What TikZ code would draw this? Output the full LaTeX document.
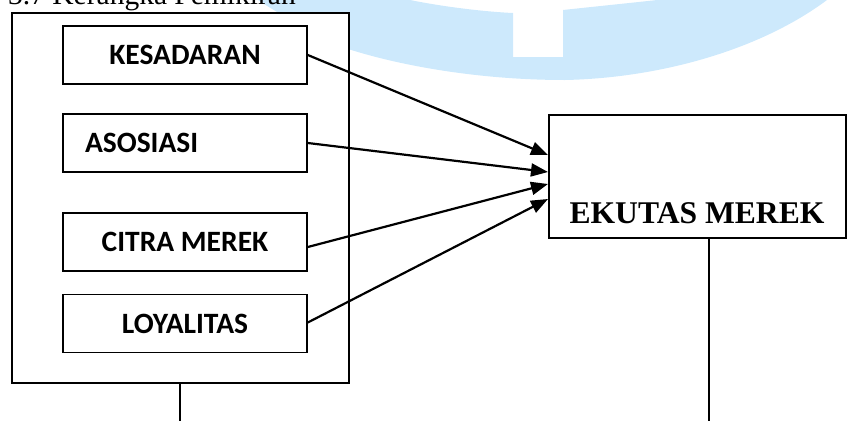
\documentclass[tikz,border=0pt]{standalone}
\usepackage{fontspec}
\setmainfont{Liberation Serif}
\newfontfamily\calfont{Carlito}
\usetikzlibrary{arrows.meta,calc}
\definecolor{wmblue}{RGB}{205,233,252}
\tikzset{
  innerbox/.style={draw=black, line width=1.6pt, fill=white, minimum width=244pt, minimum height=58pt,
    inner sep=0pt, font=\calfont\bfseries\fontsize{29.5}{33}\selectfont},
  bigbox/.style={draw=black, line width=1.6pt, fill=white, inner sep=0pt},
  arr/.style={line width=2.2pt, -{Triangle[length=17pt,width=13pt]}, shorten >=0pt},
  thinline/.style={line width=1.3pt}
}
\begin{document}
\begin{tikzpicture}[x=1pt,y=-1pt]
\useasboundingbox (0,0) rectangle (847,421);
% watermark band
\fill[wmblue] (258,0) -- (410,0) .. controls (450,8) and (490,12) .. (513,13)
  -- (513,57) -- (563,57) -- (563,10) .. controls (600,6) and (630,3) .. (657,0)
  -- (827,0) .. controls (760,50) and (660,78) .. (565,80)
  .. controls (480,80) and (400,66) .. (345,48) .. controls (310,30) and (280,15) .. cycle;
% heading (cut off at top)
\begin{scope}
\clip (0,0) rectangle (847,421);
\node[anchor=base west, inner sep=0pt, font=\fontsize{29.5}{33}\selectfont] (head) at (8,4) {3.7 Kerangka Pemikiran};
\end{scope}
% outer box
\node[bigbox, minimum width=337pt, minimum height=370pt, anchor=north west] (outer) at (11,12) {};
% inner boxes
\node[innerbox] (kes) at (185,55) {KESADARAN};
\node[innerbox, text width=200pt, inner xsep=22pt, align=left] (aso) at (185,143) {ASOSIASI};
\node[innerbox] (cit) at (185,242) {CITRA MEREK};
\node[innerbox] (loy) at (185,323.5) {LOYALITAS};
% ekuitas box
\node[bigbox, minimum width=297pt, minimum height=123pt, anchor=north west] (ek) at (548,114) {};
\node[inner sep=0pt, anchor=base, font=\bfseries\fontsize{31.6}{36}\selectfont] (ekt) at (697,223) {EKUTAS MEREK};
% arrows
\draw[arr] (kes.east) -- ($(ek.north west)+(0,41)$);
\draw[arr] (aso.east) -- ($(ek.north west)+(0,58)$);
\draw[arr] ($(cit.east)+(0,5)$) -- ($(ek.north west)+(0,70)$);
\draw[arr] ($(loy.east)+(0,-1)$) -- ($(ek.north west)+(0,85)$);
% lines below
\coordinate (b1) at (180,421);
\coordinate (b2) at (709,421);
\draw[thinline] (b1 |- outer.south) -- (b1);
\draw[thinline] (b2 |- ek.south) -- (b2);
\end{tikzpicture}
\end{document}
